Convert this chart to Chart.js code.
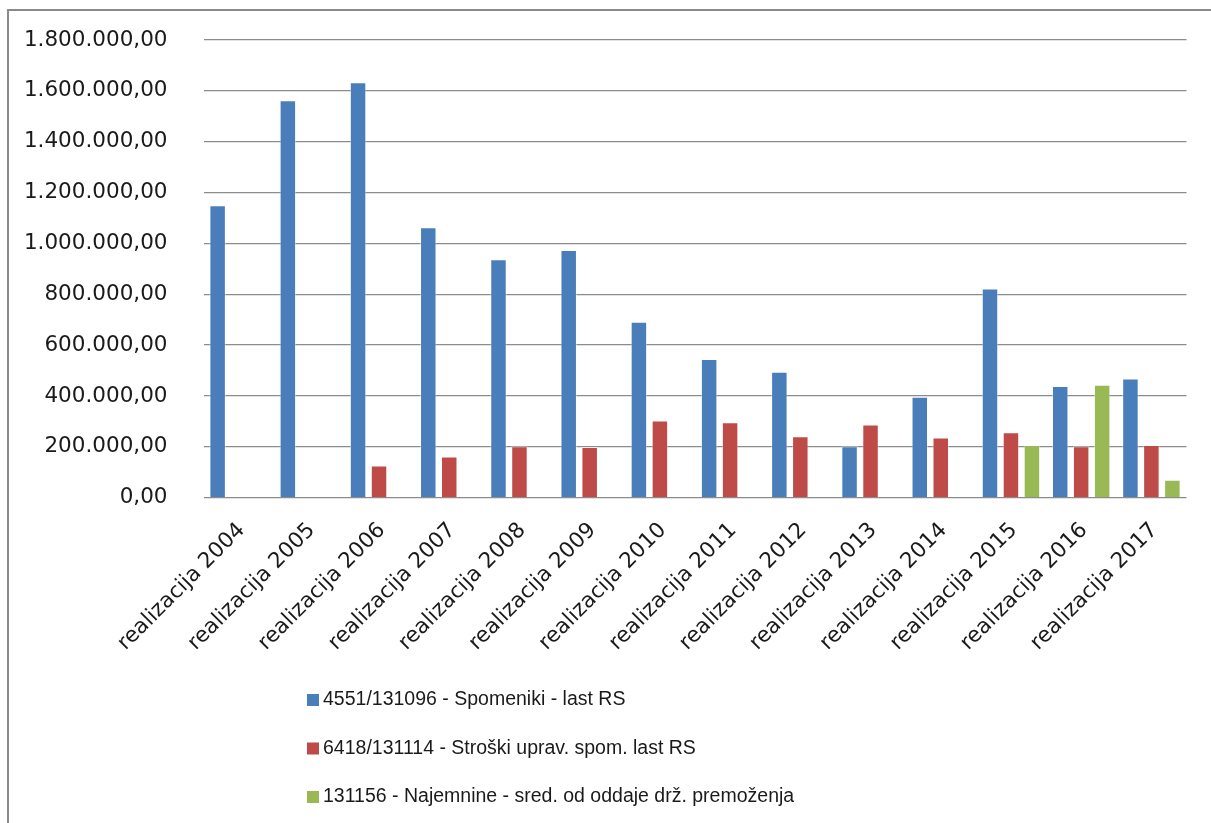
<!DOCTYPE html>
<html>
<head>
<meta charset="utf-8">
<script src="https://cdn.jsdelivr.net/npm/chart.js@4.4.0/dist/chart.umd.min.js"></script>
<style>
  html, body { margin: 0; padding: 0; background: #ffffff; }
  #wrap { width: 1211px; height: 823px; position: relative; }
</style>
</head>
<body>
<div id="wrap"><canvas id="c" width="1211" height="823"></canvas></div>
<script>
const categories = ['realizacija 2004', 'realizacija 2005', 'realizacija 2006', 'realizacija 2007',
  'realizacija 2008', 'realizacija 2009', 'realizacija 2010', 'realizacija 2011', 'realizacija 2012',
  'realizacija 2013', 'realizacija 2014', 'realizacija 2015', 'realizacija 2016', 'realizacija 2017'];

const seriesNames = ['4551/131096 - Spomeniki - last RS',
  '6418/131114 - Stroški uprav. spom. last RS',
  '131156 - Najemnine - sred. od oddaje drž. premoženja'];

const spomeniki = [1150000, 1563000, 1634000, 1064000, 938000, 974000, 692000,
  545000, 495000, 202000, 397000, 823000, 439000, 469000];
const stroski = [null, null, 127000, 162000, 202000, 199000, 304000,
  297000, 242000, 288000, 237000, 257000, 202000, 207000];
const najemnine = [null, null, null, null, null, null, null,
  null, null, null, null, 207000, 444000, 71000];

const yTicks = [0, 200000, 400000, 600000, 800000, 1000000, 1200000, 1400000, 1600000, 1800000];

const colors = ['#4A7EBB', '#BE4B48', '#98B954'];

function fmt(v) {
  const s = Math.round(v).toString().replace(/\B(?=(\d{3})+(?!\d))/g, '.');
  return s + ',00';
}

const frame = {
  id: 'frame',
  beforeDraw(chart) {
    const ctx = chart.ctx;
    ctx.save();
    ctx.fillStyle = '#ffffff';
    ctx.fillRect(0, 0, chart.width, chart.height);
    ctx.strokeStyle = '#8a8a8a';
    ctx.lineWidth = 2;
    ctx.strokeRect(8, 10, chart.width + 20, chart.height + 20);
    ctx.restore();
  }
};

const vLegend = {
  id: 'vLegend',
  afterDraw(chart) {
    const ctx = chart.ctx;
    ctx.save();
    ctx.font = '19.5px "Liberation Sans", Arial, sans-serif';
    ctx.textBaseline = 'middle';
    ctx.textAlign = 'left';
    const rows = [700, 748.5, 797];
    chart.data.datasets.forEach((ds, i) => {
      const y = rows[i];
      ctx.fillStyle = ds.backgroundColor;
      ctx.fillRect(307, y - 6, 12, 12);
      ctx.fillStyle = '#1a1a1a';
      ctx.fillText(ds.label, 323, y);
    });
    ctx.restore();
  }
};

new Chart(document.getElementById('c'), {
  type: 'bar',
  data: {
    labels: categories,
    datasets: [
      { label: seriesNames[0], data: spomeniki, backgroundColor: colors[0] },
      { label: seriesNames[1], data: stroski, backgroundColor: colors[1] },
      { label: seriesNames[2], data: najemnine, backgroundColor: colors[2] }
    ].map(d => Object.assign(d, {
      borderColor: 'rgba(255,255,255,0.45)',
      borderWidth: 1,
      categoryPercentage: 0.896,
      barPercentage: 0.786
    }))
  },
  options: {
    responsive: false,
    animation: false,
    devicePixelRatio: 1,
    layout: { padding: { left: 0, top: 40, right: 24.5, bottom: 0 } },
    plugins: {
      legend: { display: false },
      tooltip: { enabled: false }
    },
    scales: {
      x: {
        grid: { display: false, drawTicks: false },
        border: { display: false },
        ticks: {
          minRotation: 45,
          maxRotation: 45,
          autoSkip: false,
          padding: 20,
          labelOffset: 3,
          color: '#1a1a1a',
          font: { family: '"DejaVu Sans", sans-serif', size: 21.5 }
        },
        afterFit(scale) { scale.height = 325.3; }
      },
      y: {
        min: 0,
        max: 1800000,
        afterBuildTicks(scale) { scale.ticks = yTicks.map(v => ({ value: v })); },
        grid: { color: '#8c8c8c', lineWidth: 1.3, drawTicks: false },
        border: { display: false },
        ticks: {
          padding: 36,
          color: '#1a1a1a',
          font: { family: '"DejaVu Sans", sans-serif', size: 21.5 },
          callback: (v) => fmt(v)
        },
        afterFit(scale) {
          scale.width = 203.5;
          scale.paddingTop = 10;
          scale.paddingBottom = 10;
        }
      }
    }
  },
  plugins: [frame, vLegend]
});
</script>
</body>
</html>
